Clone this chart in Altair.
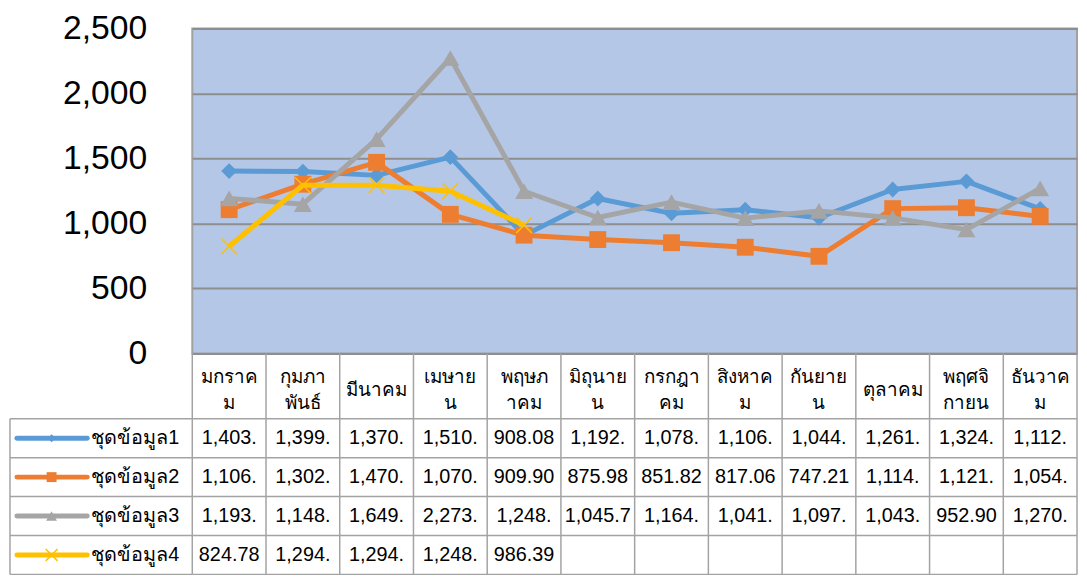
import altair as alt
import pandas as pd

# ---------------- data ----------------
months = ["มกราคม", "กุมภาพันธ์", "มีนาคม", "เมษายน", "พฤษภาคม", "มิถุนายน",
          "กรกฎาคม", "สิงหาคม", "กันยายน", "ตุลาคม", "พฤศจิกายน", "ธันวาคม"]
header_labels = ["มกราค\nม", "กุมภา\nพันธ์", "มีนาคม", "เมษาย\nน", "พฤษภ\nาคม", "มิถุนาย\nน",
                 "กรกฎา\nคม", "สิงหาค\nม", "กันยาย\nน", "ตุลาคม", "พฤศจิ\nกายน", "ธันวาค\nม"]
series_names = ["ชุดข้อมูล1", "ชุดข้อมูล2", "ชุดข้อมูล3", "ชุดข้อมูล4"]

s1_text = ["1,403.", "1,399.", "1,370.", "1,510.", "908.08", "1,192.",
           "1,078.", "1,106.", "1,044.", "1,261.", "1,324.", "1,112."]
s2_text = ["1,106.", "1,302.", "1,470.", "1,070.", "909.90", "875.98",
           "851.82", "817.06", "747.21", "1,114.", "1,121.", "1,054."]
s3_text = ["1,193.", "1,148.", "1,649.", "2,273.", "1,248.", "1,045.7",
           "1,164.", "1,041.", "1,097.", "1,043.", "952.90", "1,270."]
s4_text = ["824.78", "1,294.", "1,294.", "1,248.", "986.39", "",
           "", "", "", "", "", ""]
series_text = [s1_text, s2_text, s3_text, s4_text]

y_ticks = [0, 500, 1000, 1500, 2000, 2500]

# ---------------- styles ----------------
colors = ["#5b9bd5", "#ed7d31", "#a5a5a5", "#ffc000"]
shapes = ["diamond", "square", "triangle-up", "M-1,-1L1,1M1,-1L-1,1"]
FONT = "Tahoma, 'Liberation Sans', Arial, sans-serif"
GRID = "#8e8e8e"
BORDER = "#a3a3a3"

PLOT_W, PLOT_H = 893, 328
LEG_W = 184
ROW_PX = 39.3
HEADER = 66 / ROW_PX          # header height in row units
NROWS = len(series_names)
TAB_H = int(round((HEADER + NROWS) * ROW_PX))
HDR_LINE = 27                 # header line spacing (px)

rows = []
for k, (name, texts) in enumerate(zip(series_names, series_text)):
    for i, (m, t) in enumerate(zip(months, texts)):
        if t:
            rows.append(dict(series=name, k=k, month=m, idx=i,
                             value=float(t.replace(",", "")), label=t,
                             cx=i + 0.5, cy=HEADER + k + 0.5))
df = pd.DataFrame(rows)

# ---------------- top: line chart ----------------
x_enc = alt.X("month:N", sort=months, scale=alt.Scale(domain=months), axis=None)
y_enc = alt.Y("value:Q",
              scale=alt.Scale(domain=[0, 2500], nice=False),
              axis=alt.Axis(values=y_ticks, format=",.0f", labelFont=FONT, labelFontSize=34,
                            labelColor="#000000", ticks=False, domain=False, labelPadding=46,
                            grid=True, gridColor=GRID, gridWidth=2, title=None))

layers = []
for k, name in enumerate(series_names):
    sub = alt.Chart(df).transform_filter(alt.datum.series == name)
    layers.append(sub.mark_line(color=colors[k], strokeWidth=5, strokeJoin="round")
                  .encode(x=x_enc, y=y_enc))
    if k < 3:
        pts = sub.mark_point(shape=shapes[k], filled=True, color=colors[k],
                             size=[256, 290, 330][k], opacity=1)
    else:
        pts = sub.mark_point(shape=shapes[k], filled=False, color=colors[k],
                             size=256, strokeWidth=1.5, opacity=1)
    layers.append(pts.encode(x=x_enc, y=y_enc))

top = alt.layer(*layers).properties(
    width=PLOT_W, height=PLOT_H,
    view=alt.ViewBackground(fill="#b4c7e7", stroke="#a0a0a0", strokeWidth=2))

blank = alt.Chart(pd.DataFrame({"a": [0]})).mark_point(opacity=0).encode(
    x=alt.X("a:Q", axis=None), y=alt.Y("a:Q", axis=None)
).properties(width=LEG_W, height=PLOT_H, view=alt.ViewBackground(stroke="transparent"))

# ---------------- bottom: data table ----------------
ty_scale = alt.Scale(domain=[0, HEADER + NROWS], reverse=True, nice=False, zero=False)
tx_scale = alt.Scale(domain=[0, len(months)], nice=False, zero=False)

# vertical centre of each header block: first line shifted up for wrapped labels
hdr_cy = [HEADER / 2 + 0.1 - (lab.count("\n") * HDR_LINE / 2) / ROW_PX for lab in header_labels]
hdr_df = pd.DataFrame({"label": header_labels,
                       "cx": [i + 0.5 for i in range(len(months))],
                       "cy": hdr_cy})
vlines = pd.DataFrame({"x": list(range(len(months) + 1)),
                       "y": [0] * (len(months) + 1),
                       "y2": [HEADER + NROWS] * (len(months) + 1)})
hlines_t = pd.DataFrame({"y": [HEADER + r for r in range(NROWS + 1)],
                         "x": [0] * (NROWS + 1), "x2": [len(months)] * (NROWS + 1)})

tab_v = alt.Chart(vlines).mark_rule(color=BORDER, strokeWidth=1.5).encode(
    x=alt.X("x:Q", scale=tx_scale, axis=None),
    y=alt.Y("y:Q", scale=ty_scale, axis=None), y2="y2:Q")
tab_h = alt.Chart(hlines_t).mark_rule(color=BORDER, strokeWidth=1.5).encode(
    x=alt.X("x:Q", scale=tx_scale, axis=None), x2="x2:Q",
    y=alt.Y("y:Q", scale=ty_scale, axis=None))
tab_hdr = alt.Chart(hdr_df).mark_text(font=FONT, fontSize=19, lineBreak="\n",
                                       lineHeight=HDR_LINE, color="#000000",
                                       baseline="middle").encode(
    x=alt.X("cx:Q", scale=tx_scale, axis=None),
    y=alt.Y("cy:Q", scale=ty_scale, axis=None), text="label:N")
tab_cells = alt.Chart(df).mark_text(font=FONT, fontSize=20, color="#000000",
                                    baseline="middle").encode(
    x=alt.X("cx:Q", scale=tx_scale, axis=None),
    y=alt.Y("cy:Q", scale=ty_scale, axis=None), text="label:N")

table = alt.layer(tab_v, tab_h, tab_hdr, tab_cells).properties(
    width=PLOT_W, height=TAB_H, view=alt.ViewBackground(stroke="transparent"))

# ---------------- bottom-left: legend column ----------------
lx_scale = alt.Scale(domain=[0, LEG_W], nice=False, zero=False)
leg_df = pd.DataFrame({"series": series_names,
                       "k": list(range(NROWS)),
                       "cy": [HEADER + r + 0.5 for r in range(NROWS)],
                       "x0": [7] * NROWS, "x1": [78] * NROWS,
                       "xm": [42] * NROWS, "xt": [82] * NROWS})
leg_h = pd.DataFrame({"y": [HEADER + r for r in range(NROWS + 1)],
                      "x": [0] * (NROWS + 1), "x2": [LEG_W] * (NROWS + 1)})
leg_v = pd.DataFrame({"x": [0], "y": [HEADER], "y2": [HEADER + NROWS]})

color_scale = alt.Scale(domain=series_names, range=colors)
leg_layers = [
    alt.Chart(leg_h).mark_rule(color=BORDER, strokeWidth=1.5).encode(
        x=alt.X("x:Q", scale=lx_scale, axis=None), x2="x2:Q",
        y=alt.Y("y:Q", scale=ty_scale, axis=None)),
    alt.Chart(leg_v).mark_rule(color=BORDER, strokeWidth=1.5).encode(
        x=alt.X("x:Q", scale=lx_scale, axis=None),
        y=alt.Y("y:Q", scale=ty_scale, axis=None), y2="y2:Q"),
    alt.Chart(leg_df).mark_rule(strokeWidth=5, strokeCap="round").encode(
        x=alt.X("x0:Q", scale=lx_scale, axis=None), x2="x1:Q",
        y=alt.Y("cy:Q", scale=ty_scale, axis=None),
        color=alt.Color("series:N", scale=color_scale, legend=None)),
]
for k, name in enumerate(series_names):
    one = alt.Chart(leg_df).transform_filter(alt.datum.series == name)
    if k < 3:
        m = one.mark_point(shape=shapes[k], filled=True, color=colors[k],
                           size=[64, 100, 120][k], opacity=1)
    else:
        m = one.mark_point(shape=shapes[k], filled=False, color=colors[k],
                           size=144, strokeWidth=1.5, opacity=1)
    leg_layers.append(m.encode(x=alt.X("xm:Q", scale=lx_scale, axis=None),
                               y=alt.Y("cy:Q", scale=ty_scale, axis=None)))
leg_layers.append(
    alt.Chart(leg_df).mark_text(font=FONT, fontSize=20, color="#000000", align="left",
                                baseline="middle").encode(
        x=alt.X("xt:Q", scale=lx_scale, axis=None),
        y=alt.Y("cy:Q", scale=ty_scale, axis=None), text="series:N"))

legend = alt.layer(*leg_layers).properties(
    width=LEG_W, height=TAB_H, view=alt.ViewBackground(stroke="transparent"))

chart = alt.concat(
    blank, top, legend, table,
    columns=2, spacing=0, bounds="flush",
).properties(
    padding={"left": 0, "top": 0, "right": 0, "bottom": 0},
    background="white",
)

chart.save("out.html", embed_options={"renderer": "svg", "actions": False})
